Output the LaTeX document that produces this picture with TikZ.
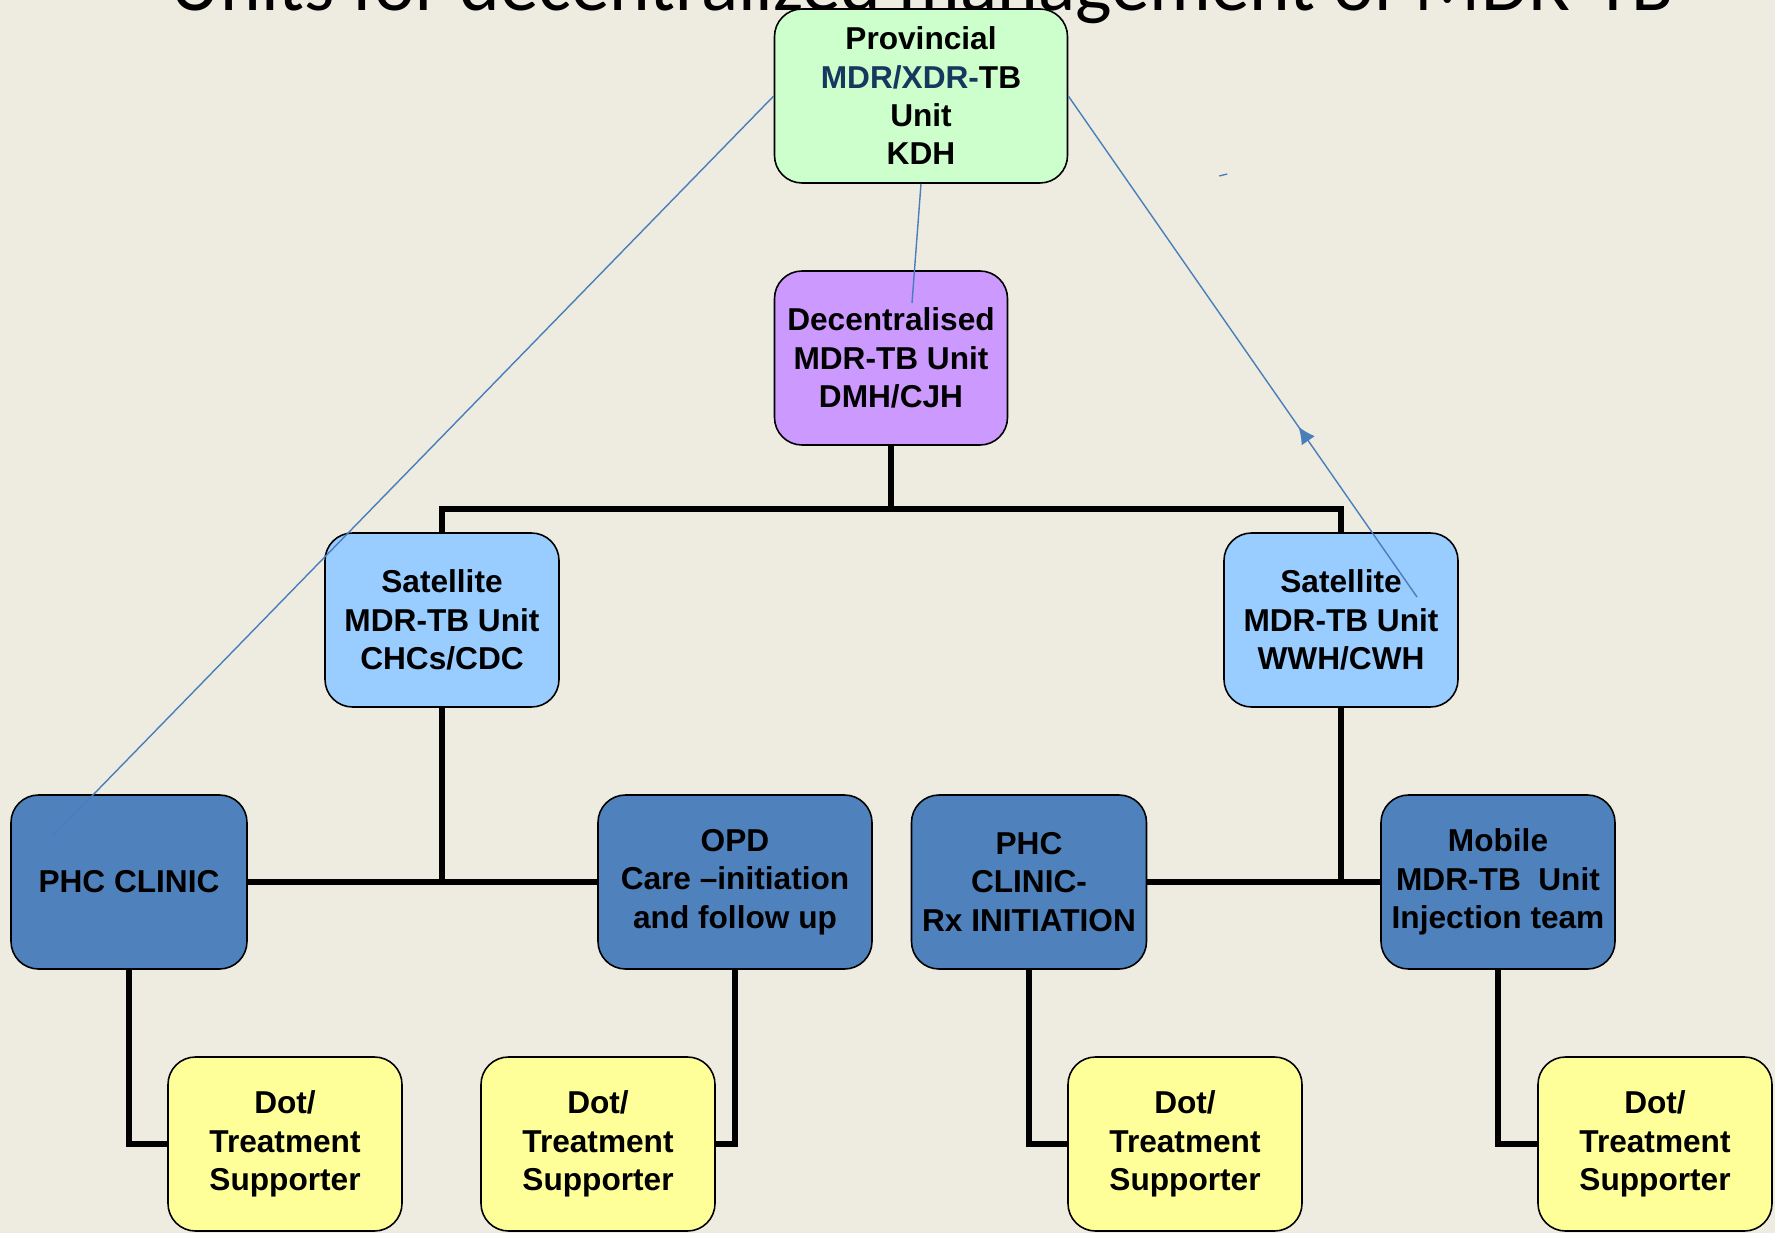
\documentclass[tikz,border=0pt]{standalone}
\usepackage{fontspec}
\setmainfont{Liberation Sans}
\newfontfamily\titlefont{Carlito}
\usetikzlibrary{positioning,arrows.meta,decorations.markings}
\definecolor{slidebg}{HTML}{EEECE1}
\definecolor{provgreen}{HTML}{CCFFCC}
\definecolor{decpurple}{HTML}{CC99FF}
\definecolor{satblue}{HTML}{99CCFF}
\definecolor{clinicblue}{HTML}{4F81BD}
\definecolor{dotyellow}{HTML}{FFFF99}
\definecolor{navytext}{HTML}{17375E}
\definecolor{linkblue}{HTML}{4A7EBB}

\begin{document}
\begin{tikzpicture}[node distance=5.24cm,
    unitbox/.style={draw, rectangle, rounded corners=0.55cm, line width=0.9pt,
        minimum width=4.68cm, minimum height=3.48cm, inner sep=0.1cm, align=center,
        font=\fontsize{18}{21.8}\selectfont\bfseries},
    link/.style={line width=3.4pt},
    feedback/.style={draw=linkblue, line width=0.8pt}]
    % Slide background and clipped title
    \useasboundingbox (0,0) rectangle (35.5,-24.66);
    \clip (0,0) rectangle (35.5,-24.66);
    \fill[slidebg] (0,0) rectangle (35.5,-24.66);
    \node (title) [anchor=base, font=\titlefont\fontsize{44}{44}\selectfont] at (18.45,-0.22) {Units for decentralized management of MDR-TB};

    % Provincial and decentralised units
    \node (prov) [unitbox, fill=provgreen, minimum width=5.86cm] at (18.42,-1.92) {Provincial\\ \textcolor{navytext}{MDR/XDR-}TB\\ Unit\\ KDH};
    \node (dec) [below of=prov, xshift=-0.6cm, unitbox, fill=decpurple, minimum width=4.66cm] {Decentralised\\ MDR-TB Unit\\ DMH/CJH};

    % Satellite units
    \node (satl) [below of=dec, xshift=-8.98cm, unitbox, fill=satblue] {Satellite\\ MDR-TB Unit\\ CHCs/CDC};
    \node (satr) [below of=dec, xshift=9cm, unitbox, fill=satblue] {Satellite\\ MDR-TB Unit\\ WWH/CWH};

    % Clinics and teams
    \node (phc) [below of=satl, xshift=-6.26cm, unitbox, fill=clinicblue, minimum width=4.72cm] {PHC CLINIC};
    \node (opd) [below of=satl, xshift=5.86cm, unitbox, fill=clinicblue, minimum width=5.48cm] {OPD\\ Care –initiation\\ and follow up};
    \node (rxinit) [below of=satr, xshift=-6.24cm, unitbox, fill=clinicblue, minimum width=4.7cm] {PHC\\ CLINIC-\\ Rx INITIATION};
    \node (mobile) [below of=satr, xshift=3.14cm, unitbox, fill=clinicblue] {Mobile\\ MDR-TB\ \ Unit\\ Injection team};

    % Treatment supporters
    \node (dot1) [below of=phc, xshift=3.12cm, unitbox, fill=dotyellow] {Dot/\\ Treatment\\ Supporter};
    \node (dot2) [below of=opd, xshift=-2.74cm, unitbox, fill=dotyellow] {Dot/\\ Treatment\\ Supporter};
    \node (dot3) [below of=rxinit, xshift=3.12cm, unitbox, fill=dotyellow] {Dot/\\ Treatment\\ Supporter};
    \node (dot4) [below of=mobile, xshift=3.14cm, unitbox, fill=dotyellow] {Dot/\\ Treatment\\ Supporter};

    % Black connectors
    \draw[link] (dec.south) -- ++(0,-1.26) coordinate (split);
    \draw[link] (satl.north) |- (split) -| (satr.north);
    \draw[link] (phc) -- (opd);
    \draw[link] (satl.south) -- (satl.south |- phc.east);
    \draw[link] (rxinit) -- (mobile);
    \draw[link] (satr.south) -- (satr.south |- mobile.west);
    \draw[link] (phc.south) |- (dot1.west);
    \draw[link] (opd.south) |- (dot2.east);
    \draw[link] (rxinit.south) |- (dot3.west);
    \draw[link] (mobile.south) |- (dot4.west);

    % Blue lines back to the provincial unit
    \coordinate (phcin) at ([xshift=-1.52cm, yshift=0.92cm]phc.center);
    \coordinate (decin) at ([xshift=0.42cm, yshift=1.1cm]dec.center);
    \coordinate (satrin) at ([xshift=1.52cm, yshift=0.46cm]satr.center);
    \coordinate (dashl) at ([xshift=3.02cm, yshift=-1.6cm]prov.east);
    \coordinate (dashr) at ([xshift=3.18cm, yshift=-1.56cm]prov.east);
    \draw[feedback] (prov.west) -- (phcin);
    \draw[feedback] (prov.south) -- (decin);
    \draw[feedback, postaction={decorate}, decoration={markings,
        mark=at position 0.34 with {\arrow[linkblue]{Latex[length=0.34cm, width=0.32cm]}}}]
        (satrin) -- (prov.east);
    \draw[feedback] (dashl) -- (dashr);
\end{tikzpicture}
\end{document}
